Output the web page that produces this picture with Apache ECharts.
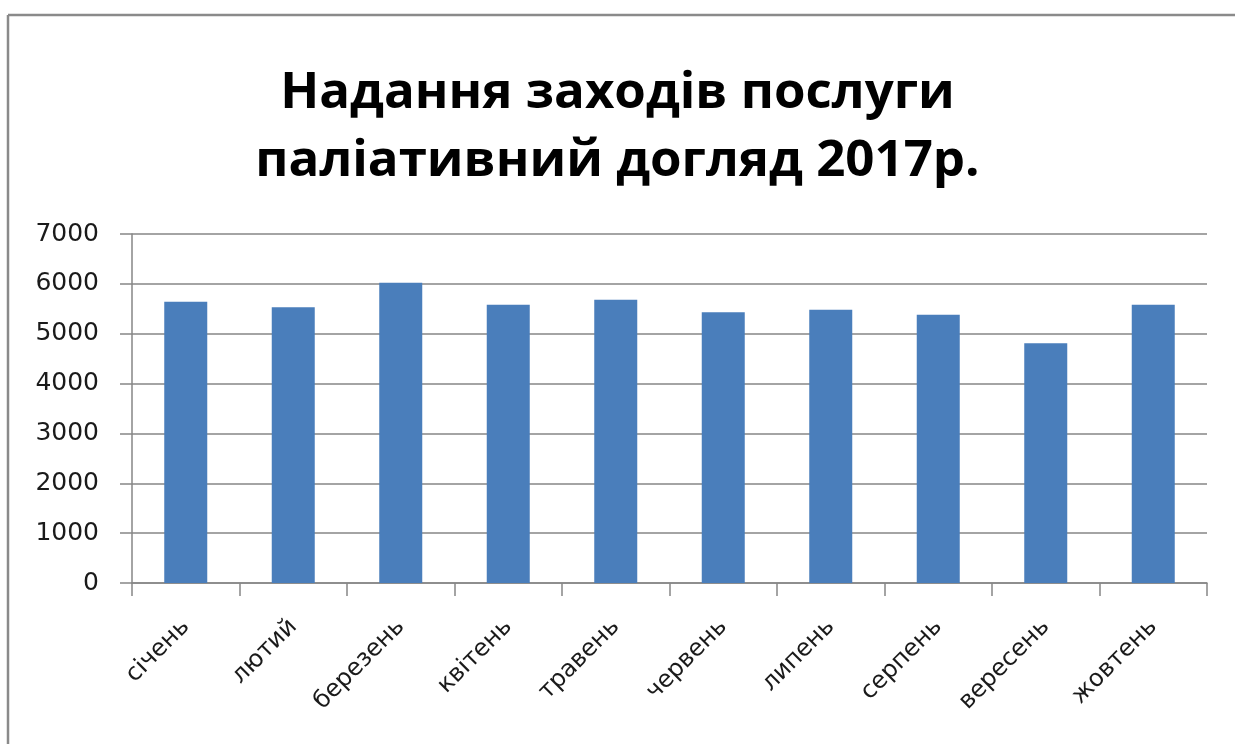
<!DOCTYPE html>
<html>
<head>
<meta charset="utf-8">
<script src="https://cdn.jsdelivr.net/npm/echarts@6/dist/echarts.min.js"></script>
<style>
html,body{margin:0;padding:0;background:#fff;overflow:hidden;}
#chart{width:1235px;height:744px;}
</style>
</head>
<body>
<div id="chart"></div>
<script>
const titleText = 'Надання заходів послуги\nпаліативний догляд 2017р.';
const categories = ['січень','лютий','березень','квітень','травень','червень','липень','серпень','вересень','жовтень'];
const values = [5640, 5530, 6020, 5580, 5680, 5430, 5480, 5380, 4810, 5580];
const yMin = 0, yMax = 7000, yStep = 1000;

const chart = echarts.init(document.getElementById('chart'));
chart.setOption({
  backgroundColor: '#fff',
  animation: false,
  graphic: [
    { type: 'line', shape: { x1: 8, y1: 15, x2: 1235, y2: 15 }, style: { stroke: '#8a8a8a', lineWidth: 2.5 }, silent: true },
    { type: 'line', shape: { x1: 8, y1: 15, x2: 8, y2: 744 }, style: { stroke: '#8a8a8a', lineWidth: 2.5 }, silent: true }
  ],
  title: {
    text: titleText,
    left: 'center',
    top: 54,
    textStyle: {
      fontFamily: 'Open Sans',
      fontWeight: 'bold',
      fontSize: 51,
      lineHeight: 68,
      color: '#000'
    }
  },
  grid: { left: 132, right: 28, top: 234, bottom: 161, containLabel: false },
  xAxis: {
    type: 'category',
    data: categories,
    boundaryGap: true,
    axisLine: { lineStyle: { color: '#868686', width: 1.5 } },
    axisTick: { show: true, length: 13, inside: false, alignWithLabel: false, lineStyle: { color: '#868686', width: 1.5 } },
    axisLabel: {
      rotate: 45,
      margin: 40,
      interval: 0,
      fontFamily: 'DejaVu Sans',
      fontSize: 24,
      color: '#1a1a1a'
    }
  },
  yAxis: {
    type: 'value',
    min: yMin, max: yMax, interval: yStep,
    axisLine: { show: true, lineStyle: { color: '#868686', width: 1.5 } },
    axisTick: { show: true, length: 12, lineStyle: { color: '#868686', width: 1.5 } },
    splitLine: { show: true, lineStyle: { color: '#868686', width: 1.5 } },
    axisLabel: {
      margin: 33,
      fontFamily: 'DejaVu Sans',
      fontSize: 25,
      color: '#1a1a1a',
      formatter: function (v) { return String(v); }
    }
  },
  series: [{
    type: 'bar',
    data: values,
    barWidth: '40%',
    itemStyle: { color: '#4a7ebb' }
  }]
});
</script>
</body>
</html>
